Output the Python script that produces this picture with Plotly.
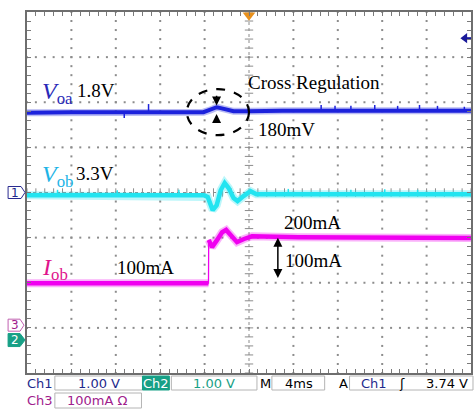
import numpy as np
import plotly.graph_objects as go

# ---------------- data (time in ms, 4 ms/div; vertical in screen divisions) -------------
voa_t = [-20, -16, -4.1, -3.45, -2.91, -2.55, -2.02, -1.39, 0, 3, 20]
voa_y = [1.77, 1.78, 1.78, 1.83, 1.89, 1.87, 1.83, 1.80, 1.80, 1.81, 1.81]
voa_spike_t = [-11.24, -9.05, 6.50, 7.75, 9.18, 11.33, 13.39, 15.36, 16.98, 19.40]
voa_spike_y = [1.65, 1.96, 1.94, 1.92, 1.92, 1.94, 1.92, 1.94, 1.92, 1.90]

vob_t = [-20, -4.08, -3.72, -3.27, -2.91, -2.55, -2.19, -1.84, -1.39, -1.03, -0.49, 0.13,
         0.67, 20]
vob_y = [-0.06, -0.06, -0.10, -0.39, -0.28, 0.05, 0.21, 0.10, -0.12, -0.19, -0.08, 0.03,
         -0.04, -0.04]
vob_spike_t = [-17.25, -11.87, -6.32, 3.54, 9.18, 12.23, 15.19]
vob_spike_y = [0.06, 0.05, 0.06, 0.08, 0.06, 0.07, 0.06]

iob_t = [-20, -14, -8, -3.65, -3.63, -3.33, -2.87, -2.42, -2.06, -1.61, -1.08, -0.45,
         0.27, 4.48, 12, 20]
iob_y = [-2.01, -2.00, -2.01, -2.01, -1.05, -1.21, -1.05, -0.88, -0.83, -0.94, -1.10,
         -1.03, -0.97, -0.99, -1.00, -1.01]
iob_step = 4  # index where the load step happens

ch_markers = [("1", 0.0), ("3", -2.94), ("2", -3.27)]

# ---------------- layout geometry ----------------
W, H = 474, 409
ML, MR, MT, MB = 27, 1, 12, 36
PW = W - ML - MR
PH = H - MT - MB


def xp(px):
    return (px - ML) / PW


def yp(py):
    return (H - MB - py) / PH


VOA_C = "#1c22dc"
VOB_C = "#22e4f0"
IOB_C = "#f000f0"
GRID_C = "#8c8c8c"
NAVY = "#1e2a8c"
TEAL = "#17a086"
PURP = "#a0208c"

fig = go.Figure()

# ---- graticule dots ----
gx, gy = [], []
for i in range(1, 10):
    if i == 5:
        continue
    X = -20 + 4 * i
    for j in range(41):
        gx.append(X)
        gy.append(-4 + 0.2 * j)
for i in range(1, 8):
    if i == 4:
        continue
    Y = -4 + i
    for j in range(51):
        gx.append(-20 + 0.8 * j)
        gy.append(Y)
fig.add_trace(go.Scatter(x=gx, y=gy, mode="markers", hoverinfo="skip",
                         marker=dict(symbol="square", size=2, color=GRID_C, line=dict(width=0))))
# center crosshair
fig.add_trace(go.Scatter(x=[0, 0], y=[-4, 4], mode="lines", hoverinfo="skip",
                         line=dict(color=GRID_C, width=1, dash="dot")))
fig.add_trace(go.Scatter(x=[-20, 20], y=[0, 0], mode="lines", hoverinfo="skip",
                         line=dict(color=GRID_C, width=1, dash="dot")))
fig.add_trace(go.Scatter(x=[0] * 41, y=[-4 + 0.2 * j for j in range(41)], mode="markers",
                         hoverinfo="skip",
                         marker=dict(symbol="line-ew", size=6, line=dict(color=GRID_C, width=1))))
fig.add_trace(go.Scatter(x=[-20 + 0.8 * j for j in range(51)], y=[0] * 51, mode="markers",
                         hoverinfo="skip",
                         marker=dict(symbol="line-ns", size=6, line=dict(color=GRID_C, width=1))))


def spikes(base_t, base_y, st, sy):
    xs, ys = [], []
    for t, p in zip(st, sy):
        b = float(np.interp(t, base_t, base_y))
        xs += [t, t, None]
        ys += [b, p, None]
    return xs, ys


def trace(x, y, color, width, opacity=1.0):
    fig.add_trace(go.Scatter(x=x, y=y, mode="lines", opacity=opacity, hoverinfo="skip",
                             line=dict(color=color, width=width)))


# ---- waveforms (faint noise band + solid core) ----
sx, sy = spikes(voa_t, voa_y, voa_spike_t, voa_spike_y)
trace(voa_t, voa_y, VOA_C, 7, 0.3)
trace(sx, sy, VOA_C, 1.5)
trace(voa_t, voa_y, VOA_C, 4)

sx, sy = spikes(vob_t, vob_y, vob_spike_t, vob_spike_y)
trace(vob_t, vob_y, VOB_C, 8, 0.3)
trace(sx, sy, VOB_C, 1.5)
trace(vob_t, vob_y, VOB_C, 4.5)

trace(iob_t[:iob_step], iob_y[:iob_step], IOB_C, 8, 0.3)
trace(iob_t[iob_step:], iob_y[iob_step:], IOB_C, 8, 0.3)
trace(iob_t, iob_y, IOB_C, 1.3)
trace(iob_t[:iob_step], iob_y[:iob_step], IOB_C, 4.5)
trace(iob_t[iob_step:], iob_y[iob_step:], IOB_C, 4.5)

# trigger position marker & level arrow
fig.add_trace(go.Scatter(x=[0], y=[3.93], mode="markers", cliponaxis=False,
                         marker=dict(symbol="triangle-down", size=11, color="#e8901c")))
fig.add_trace(go.Scatter(x=[19.2, 20], y=[3.42, 3.42], mode="lines", cliponaxis=False,
                         line=dict(color="#1a1a9a", width=2)))
fig.add_trace(go.Scatter(x=[19.45], y=[3.42], mode="markers", cliponaxis=False,
                         marker=dict(symbol="triangle-left", size=9, color="#1a1a9a")))

shapes = []
ann = []

# dashed ellipse
shapes.append(dict(type="circle", xref="x", yref="y", x0=-5.6, x1=0.0, y0=1.27, y1=2.29,
                   line=dict(color="black", width=2.2, dash="dash")))


def arrow(x, y, ax, ay, side="end"):
    ann.append(dict(x=x, y=y, ax=ax, ay=ay, xref="x", yref="y", axref="x", ayref="y",
                    showarrow=True, arrowhead=2, arrowsize=1.2, arrowwidth=1.5,
                    arrowcolor="black", arrowside=side, text=""))


arrow(-2.92, 1.93, -2.92, 2.18)
arrow(-2.92, 1.74, -2.92, 1.52)
arrow(2.6, -1.0, 2.6, -1.93, side="end+start")

SERIF = "Liberation Serif"


def txt(text, px, py, size=19, color="black", family=SERIF, anchor="left"):
    ann.append(dict(text=text, x=xp(px), y=yp(py), xref="paper", yref="paper",
                    xanchor=anchor, yanchor="middle", showarrow=False,
                    font=dict(family=family, size=size, color=color)))


txt("<i>V</i><sub>oa</sub>", 40, 93, size=24, color="#2a2ab8")
txt("1.8V", 75, 90)
txt("Cross Regulation", 247, 82)
txt("180mV", 257, 129)
txt("<i>V</i><sub>ob</sub>", 40, 176, size=24, color="#1eb4e6")
txt("3.3V", 74, 173)
txt("200mA", 283, 222)
txt("100mA", 284, 260)
txt("<i>I</i><sub>ob</sub>", 40, 269, size=24, color="#e0148c")
txt("100mA", 115, 267)

# channel ground markers on the left
marker_style = {
    "1": dict(line="#2a2a90", fill="white", text=NAVY, x1=21, tip=25, h=6),
    "3": dict(line="#c060b0", fill="white", text=PURP, x1=20, tip=24, h=6),
    "2": dict(line=TEAL, fill=TEAL, text="white", x1=20, tip=25, h=6.5),
}
for lab, lvl in ch_markers:
    st = marker_style[lab]
    pyc = MT + (4 - lvl) * PH / 8
    path = (f"M {xp(8)} {yp(pyc - st['h'])} L {xp(st['x1'])} {yp(pyc - st['h'])} "
            f"L {xp(st['tip'])} {yp(pyc)} L {xp(st['x1'])} {yp(pyc + st['h'])} "
            f"L {xp(8)} {yp(pyc + st['h'])} Z")
    shapes.append(dict(type="path", xref="paper", yref="paper", path=path,
                       line=dict(color=st["line"], width=1), fillcolor=st["fill"]))
    txt(lab, 14.5, pyc, size=12, color=st["text"], family="DejaVu Sans", anchor="center")


# ---- status bar ----
def box(x0, x1, y0, y1, fill="white", line="#b4b4b4"):
    shapes.append(dict(type="rect", xref="paper", yref="paper", x0=xp(x0), x1=xp(x1),
                       y0=yp(y1), y1=yp(y0), line=dict(color=line, width=1), fillcolor=fill))


box(55, 143, 376, 390)
box(143, 170, 376, 390, fill=TEAL, line=TEAL)
box(172, 258, 376, 390)
box(273, 326, 376, 390)
box(351, 475, 376, 390)
box(55, 142, 393, 408)

SANS = "DejaVu Sans"
txt("Ch1", 40, 383, 13, NAVY, SANS, "center")
txt("1.00 V", 99, 383, 13, NAVY, SANS, "center")
txt("Ch2", 156.5, 383, 13, "white", SANS, "center")
txt("1.00 V", 215, 383, 13, TEAL, SANS, "center")
txt("M", 266.5, 383, 13, "black", SANS, "center")
txt("4ms", 300, 383, 13, "black", SANS, "center")
txt("A", 345, 383, 13, "black", SANS, "center")
txt("Ch1", 376, 383, 13, NAVY, SANS, "center")
txt("ʃ", 404, 383, 13, "black", SANS, "center")
txt("3.74 V", 449, 383, 13, "black", SANS, "center")
txt("Ch3", 40, 400, 13, PURP, SANS, "center")
txt("100mA Ω", 98, 400, 13, PURP, SANS, "center")

axis_common = dict(showgrid=False, zeroline=False, showticklabels=False, showline=True,
                   linecolor="#6e6e6e", linewidth=2, mirror="ticks", ticks="inside",
                   tickcolor="#7a7a7a", ticklen=4, tickwidth=1, fixedrange=True)
fig.update_layout(
    width=W, height=H, margin=dict(l=ML, r=MR, t=MT, b=MB),
    paper_bgcolor="white", plot_bgcolor="white", showlegend=False,
    xaxis=dict(range=[-20, 20], tick0=-20, dtick=0.8, **axis_common),
    yaxis=dict(range=[-4, 4], tick0=-4, dtick=0.2, **axis_common),
    shapes=shapes, annotations=ann,
)

fig.write_html("out.html", config={"displayModeBar": False},
               post_script="document.body.style.margin='0';document.body.style.padding='0';")
